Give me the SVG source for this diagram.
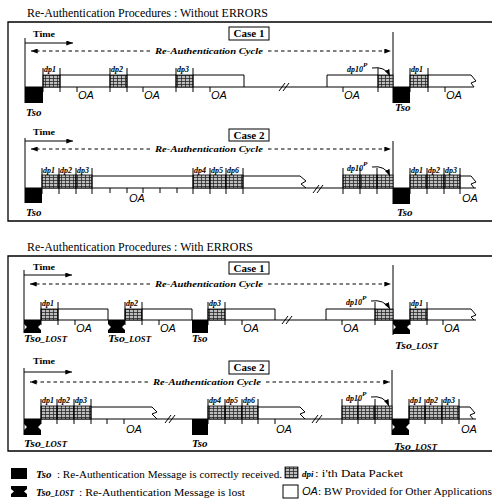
<svg xmlns="http://www.w3.org/2000/svg" width="492" height="504" viewBox="0 0 492 504">
<defs>
<pattern id="hat" width="4" height="3" patternUnits="userSpaceOnUse"><rect width="4" height="3" fill="#bdbdbd"/><path d="M0,0.5H4M1.5,0V3" stroke="#222" stroke-width="0.75"/></pattern>
<marker id="ah" viewBox="0 0 8 6" refX="8" refY="3" markerWidth="7" markerHeight="5" orient="auto-start-reverse" markerUnits="userSpaceOnUse"><path d="M0,0L8,3L0,6Z" fill="#000"/></marker>
</defs>
<style>
.f{fill:none;stroke:#000;stroke-width:1.3}
.l{fill:none;stroke:#000;stroke-width:1}
.tl{fill:none;stroke:#000;stroke-width:1.2}
.dp{fill:url(#hat);stroke:#000;stroke-width:0.8}
.k{fill:#000}
.cb{fill:#fff;stroke:#000;stroke-width:1}
.da{fill:none;stroke:#000;stroke-width:1;stroke-dasharray:3.5 3}
text{font-family:"Liberation Serif",serif;fill:#000}
.t1{font-size:12px}
.tm{font-weight:bold;font-size:9px}
.cs{font-weight:bold;font-size:11px;text-anchor:middle}
.cy{font-weight:bold;font-style:italic;font-size:9px}
.dl{font-weight:bold;font-style:italic;font-size:8px}
.oa{font-family:"Liberation Sans",sans-serif;font-style:italic;font-size:11px}
.ts{font-weight:bold;font-style:italic;font-size:11px}
.sm{font-size:7px}
.lo{font-size:8px}
.lg{font-size:10px}
</style>

<g id="titles">
<text class="t1" x="27" y="17" textLength="241" lengthAdjust="spacingAndGlyphs">Re-Authentication Procedures : Without ERRORS</text>
<text class="t1" x="27" y="251" textLength="226" lengthAdjust="spacingAndGlyphs">Re-Authentication Procedures : With ERRORS</text>
</g>

<g id="frames">
<path class="f" d="M492,22H8V221H492"/>
<path class="f" d="M492,256H8V451H492"/>
</g>

<!-- Row A: without errors, case 1 -->
<g id="rowA">
<rect class="cb" x="229" y="27" width="40" height="13"/>
<text class="cs" x="249" y="37">Case 1</text>
<text class="tm" x="33" y="37" textLength="22" lengthAdjust="spacingAndGlyphs">Time</text>
<path class="l" d="M25,43H73" marker-end="url(#ah)"/>
<path class="da" d="M150,51H31" marker-end="url(#ah)"/>
<path class="da" d="M268,51H391" marker-end="url(#ah)"/>
<text class="cy" x="155" y="54" textLength="108" lengthAdjust="spacingAndGlyphs">Re-Authentication Cycle</text>
<path class="tl" d="M25,87H474"/>
<path class="l" d="M25,38V103M393,32V103"/>
<rect class="k" x="25" y="87" width="18" height="16"/>
<rect class="k" x="393" y="87" width="17" height="16"/>
<rect class="dp" x="43" y="75" width="17" height="12"/>
<rect class="dp" x="110" y="75" width="17" height="12"/>
<rect class="dp" x="176" y="75" width="17" height="12"/>
<rect class="dp" x="378" y="75" width="15" height="12"/>
<rect class="dp" x="410" y="75" width="18" height="12"/>
<path class="l" d="M43,68V92M60,68V92M110,68V92M127,68V92M176,68V92M193,68V92M378,68V92M410,68V92M428,68V92"/>
<path class="l" d="M60,75H110M127,75H176M193,75H244V87M327,87V75H378M428,75H471L476,81L471,83L474,87"/>
<path class="l" d="M77,87V92M143,87V92M210,87V92M343,87V92M445,87V92"/>
<path class="l" d="M279,91L285,83M283,91L289,83"/>
<text class="oa" x="78" y="99">OA</text>
<text class="oa" x="144" y="99">OA</text>
<text class="oa" x="211" y="99">OA</text>
<text class="oa" x="344" y="99">OA</text>
<text class="oa" x="446" y="99">OA</text>
<text class="dl" x="44" y="72">dp1</text>
<text class="dl" x="111" y="72">dp2</text>
<text class="dl" x="177" y="72">dp3</text>
<text class="dl" x="411" y="72">dp1</text>
<text class="dl" x="347" y="72">dp10<tspan class="sm" dy="-5">P</tspan></text>
<path class="l" d="M372,68Q385,66 390,76" marker-end="url(#ah)"/>
<text class="ts" x="26" y="116">Tso</text>
<text class="ts" x="395" y="111">Tso</text>
</g>

<!-- Row B: without errors, case 2 -->
<g id="rowB">
<rect class="cb" x="229" y="129" width="40" height="12"/>
<text class="cs" x="249" y="139">Case 2</text>
<text class="tm" x="33" y="135" textLength="22" lengthAdjust="spacingAndGlyphs">Time</text>
<path class="l" d="M25,141H73" marker-end="url(#ah)"/>
<path class="da" d="M150,149H31" marker-end="url(#ah)"/>
<path class="da" d="M268,149H391" marker-end="url(#ah)"/>
<text class="cy" x="155" y="152" textLength="108" lengthAdjust="spacingAndGlyphs">Re-Authentication Cycle</text>
<path class="tl" d="M25,188H476"/>
<path class="l" d="M25,138V203M393,141V204"/>
<rect class="k" x="25" y="188" width="17" height="15"/>
<rect class="k" x="393" y="188" width="17" height="16"/>
<rect class="dp" x="42" y="175" width="17" height="13"/>
<rect class="dp" x="59" y="175" width="17" height="13"/>
<rect class="dp" x="76" y="175" width="16" height="13"/>
<rect class="dp" x="193" y="175" width="17" height="13"/>
<rect class="dp" x="210" y="175" width="16" height="13"/>
<rect class="dp" x="226" y="175" width="17" height="13"/>
<rect class="dp" x="343" y="175" width="17" height="13"/>
<rect class="dp" x="360" y="175" width="17" height="13"/>
<rect class="dp" x="377" y="175" width="16" height="13"/>
<rect class="dp" x="410" y="175" width="17" height="13"/>
<rect class="dp" x="427" y="175" width="17" height="13"/>
<rect class="dp" x="444" y="175" width="16" height="13"/>
<path class="l" d="M42,168V194M59,168V194M76,168V194M92,168V194M193,168V194M210,168V194M226,168V194M243,168V194M343,168V194M360,168V194M377,168V194M410,168V194M427,168V194M444,168V194M460,168V194"/>
<path class="l" d="M92,176H193M243,176H300L306,181L301,184L306,188M460,176H471L476,182L471,184L474,188"/>
<path class="l" d="M110,188V193M127,188V193M143,188V193M160,188V193M177,188V193"/>
<path class="l" d="M313,193L319,185M317,193L323,185"/>
<text class="oa" x="129" y="202">OA</text>
<text class="oa" x="462" y="202">OA</text>
<text class="dl" x="43" y="173">dp1</text>
<text class="dl" x="60" y="173">dp2</text>
<text class="dl" x="77" y="173">dp3</text>
<text class="dl" x="194" y="173">dp4</text>
<text class="dl" x="211" y="173">dp5</text>
<text class="dl" x="227" y="173">dp6</text>
<text class="dl" x="411" y="173">dp1</text>
<text class="dl" x="428" y="173">dp2</text>
<text class="dl" x="445" y="173">dp3</text>
<text class="dl" x="347" y="171">dp10<tspan class="sm" dy="-5">P</tspan></text>
<path class="l" d="M372,167Q385,165 390,176" marker-end="url(#ah)"/>
<text class="ts" x="26" y="216">Tso</text>
<text class="ts" x="397" y="216">Tso</text>
</g>

<!-- Row C: with errors, case 1 -->
<g id="rowC">
<rect class="cb" x="229" y="262" width="40" height="12"/>
<text class="cs" x="249" y="272">Case 1</text>
<text class="tm" x="33" y="270" textLength="22" lengthAdjust="spacingAndGlyphs">Time</text>
<path class="l" d="M24,275H72" marker-end="url(#ah)"/>
<path class="da" d="M150,284H30" marker-end="url(#ah)"/>
<path class="da" d="M268,284H391" marker-end="url(#ah)"/>
<text class="cy" x="155" y="287" textLength="108" lengthAdjust="spacingAndGlyphs">Re-Authentication Cycle</text>
<path class="tl" d="M24,320H476"/>
<path class="l" d="M24,270V333M393,265V335"/>
<path class="k" d="M24,320H41V324L38,327L41,330V333H24V330L27,327L24,324Z"/>
<path class="k" d="M108,320H125V324L122,327L125,330V333H108V330L111,327L108,324Z"/>
<rect class="k" x="192" y="320" width="16" height="13"/>
<path class="k" d="M393,320H410V324L407,327L410,330V334H393V330L396,327L393,324Z"/>
<rect class="dp" x="41" y="309" width="17" height="11"/>
<rect class="dp" x="125" y="309" width="17" height="11"/>
<rect class="dp" x="208" y="309" width="17" height="11"/>
<rect class="dp" x="375" y="309" width="18" height="11"/>
<rect class="dp" x="410" y="309" width="17" height="11"/>
<path class="l" d="M41,302V325M58,302V325M125,302V325M142,302V325M208,302V325M225,302V325M375,302V325M410,302V325M427,302V325"/>
<path class="l" d="M58,309H108V320M142,309H192V320M225,309H275V320M326,320V309H375M427,309H471L476,315L471,317L474,320"/>
<path class="l" d="M75,320V325M159,320V325M242,320V325M342,320V325M443,320V325"/>
<path class="l" d="M282,324L288,316M286,324L292,316"/>
<text class="oa" x="76" y="332">OA</text>
<text class="oa" x="160" y="332">OA</text>
<text class="oa" x="243" y="332">OA</text>
<text class="oa" x="343" y="332">OA</text>
<text class="oa" x="444" y="332">OA</text>
<text class="dl" x="42" y="306">dp1</text>
<text class="dl" x="126" y="306">dp2</text>
<text class="dl" x="209" y="306">dp3</text>
<text class="dl" x="411" y="306">dp1</text>
<text class="dl" x="346" y="305">dp10<tspan class="sm" dy="-5">P</tspan></text>
<path class="l" d="M371,301Q384,299 390,309" marker-end="url(#ah)"/>
<text class="ts" x="24" y="342" textLength="43" lengthAdjust="spacingAndGlyphs">Tso<tspan class="lo">_LOST</tspan></text>
<text class="ts" x="108" y="342" textLength="43" lengthAdjust="spacingAndGlyphs">Tso<tspan class="lo">_LOST</tspan></text>
<text class="ts" x="192" y="342">Tso</text>
<text class="ts" x="395" y="349" textLength="43" lengthAdjust="spacingAndGlyphs">Tso<tspan class="lo">_LOST</tspan></text>
</g>

<!-- Row D: with errors, case 2 -->
<g id="rowD">
<rect class="cb" x="229" y="361" width="40" height="13"/>
<text class="cs" x="249" y="371">Case 2</text>
<text class="tm" x="33" y="364" textLength="22" lengthAdjust="spacingAndGlyphs">Time</text>
<path class="l" d="M24,372H72" marker-end="url(#ah)"/>
<path class="da" d="M148,382H30" marker-end="url(#ah)"/>
<path class="da" d="M266,382H390" marker-end="url(#ah)"/>
<text class="cy" x="153" y="385" textLength="108" lengthAdjust="spacingAndGlyphs">Re-Authentication Cycle</text>
<path class="tl" d="M24,419H476"/>
<path class="l" d="M24,368V435M392,370V435"/>
<path class="k" d="M24,419H41V424L38,427L41,430V435H24V430L27,427L24,424Z"/>
<rect class="k" x="192" y="419" width="16" height="16"/>
<path class="k" d="M392,419H409V424L406,427L409,430V435H392V430L395,427L392,424Z"/>
<rect class="dp" x="41" y="406" width="16" height="13"/>
<rect class="dp" x="57" y="406" width="17" height="13"/>
<rect class="dp" x="74" y="406" width="17" height="13"/>
<rect class="dp" x="208" y="406" width="17" height="13"/>
<rect class="dp" x="225" y="406" width="17" height="13"/>
<rect class="dp" x="242" y="406" width="16" height="13"/>
<rect class="dp" x="342" y="406" width="16" height="13"/>
<rect class="dp" x="358" y="406" width="17" height="13"/>
<rect class="dp" x="375" y="406" width="17" height="13"/>
<rect class="dp" x="409" y="406" width="16" height="13"/>
<rect class="dp" x="425" y="406" width="17" height="13"/>
<rect class="dp" x="442" y="406" width="17" height="13"/>
<path class="l" d="M41,399V424M57,399V424M74,399V424M91,399V424M208,399V424M225,399V424M242,399V424M258,399V424M342,399V424M358,399V424M375,399V424M409,399V424M425,399V424M442,399V424M459,399V424"/>
<path class="l" d="M91,407H152L157,412L152,414L157,419M258,407H300L305,412L300,414L305,419M459,407H470L475,413L470,415L473,419"/>
<path class="l" d="M107,419V424M124,419V424M275,419V424"/>
<path class="l" d="M165,423L171,415M169,423L175,415M312,423L318,415M316,423L322,415"/>
<text class="oa" x="126" y="433">OA</text>
<text class="oa" x="276" y="433">OA</text>
<text class="oa" x="461" y="433">OA</text>
<text class="dl" x="42" y="403">dp1</text>
<text class="dl" x="58" y="403">dp2</text>
<text class="dl" x="75" y="403">dp3</text>
<text class="dl" x="209" y="403">dp4</text>
<text class="dl" x="226" y="403">dp5</text>
<text class="dl" x="243" y="403">dp6</text>
<text class="dl" x="410" y="403">dp1</text>
<text class="dl" x="426" y="403">dp2</text>
<text class="dl" x="443" y="403">dp3</text>
<text class="dl" x="346" y="401">dp10<tspan class="sm" dy="-5">P</tspan></text>
<path class="l" d="M371,397Q384,395 389,406" marker-end="url(#ah)"/>
<text class="ts" x="24" y="447" textLength="43" lengthAdjust="spacingAndGlyphs">Tso<tspan class="lo">_LOST</tspan></text>
<text class="ts" x="192" y="447">Tso</text>
<text class="ts" x="394" y="450" textLength="43" lengthAdjust="spacingAndGlyphs">Tso<tspan class="lo">_LOST</tspan></text>
</g>

<g id="legend">
<rect class="k" x="11" y="468" width="16" height="11"/>
<text class="ts" x="36" y="478">Tso</text>
<text class="lg" x="57" y="478" textLength="225" lengthAdjust="spacingAndGlyphs">: Re-Authentication Message is correctly received.</text>
<path class="k" d="M11,486H27V489L24,491.5L27,494V497H11V494L14,491.5L11,489Z"/>
<text class="ts" x="36" y="496" textLength="38" lengthAdjust="spacingAndGlyphs">Tso<tspan class="lo">_LOST</tspan></text>
<text class="lg" x="79" y="496" textLength="166" lengthAdjust="spacingAndGlyphs">: Re-Authentication Message is lost</text>
<rect class="dp" x="285" y="467" width="13" height="11"/>
<text class="dl" x="302" y="477" style="font-size:9px">dpi</text>
<text class="lg" x="315" y="477" textLength="88" lengthAdjust="spacingAndGlyphs">: i'th  Data Packet</text>
<rect class="cb" x="283" y="485" width="15" height="13"/>
<text class="oa" x="302" y="495">OA</text>
<text class="lg" x="318" y="495" textLength="174" lengthAdjust="spacingAndGlyphs">: BW Provided for Other Applications</text>
</g>
</svg>
